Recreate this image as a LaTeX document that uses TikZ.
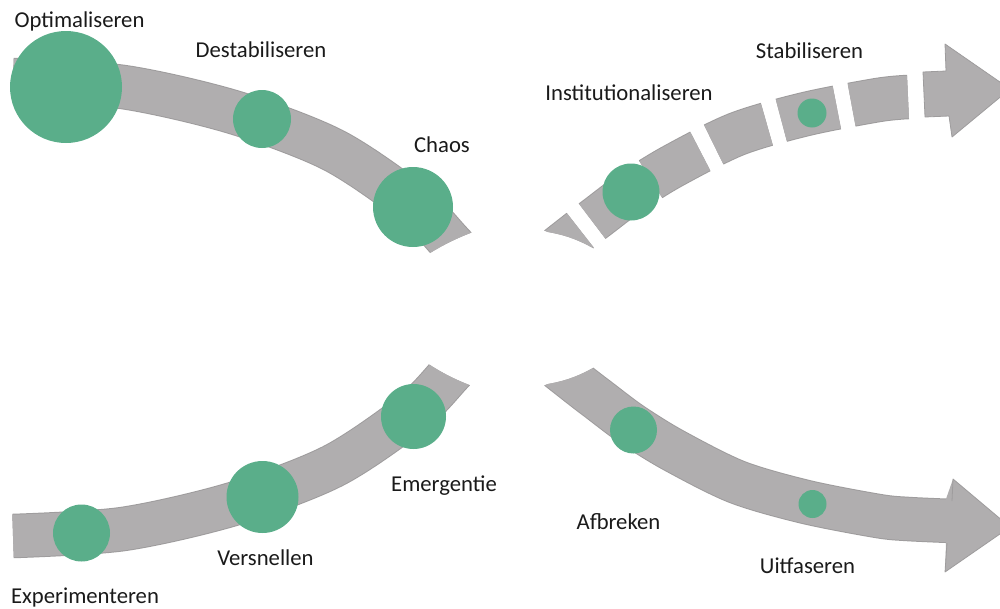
\documentclass[tikz,border=0pt]{standalone}
\usepackage{fontspec}
\setmainfont{Carlito}
\definecolor{bandgray}{RGB}{176,174,175}
\definecolor{bandedge}{RGB}{158,156,157}
\definecolor{dotgreen}{RGB}{90,174,138}
\definecolor{txt}{RGB}{26,26,26}
\begin{document}
\begin{tikzpicture}[x=1pt,y=-1pt,
  bandout/.style={draw=bandedge, line width=44.5pt},
  bandin/.style={draw=bandgray, line width=42.5pt},
  dashes/.style={dash pattern=on 57pt off 15pt},
  head/.style={fill=bandgray, draw=bandedge, line width=0.8pt, line join=round},
  dot/.style={circle, fill=dotgreen, inner sep=0pt},
  lbl/.style={font=\fontsize{22.7}{27}\selectfont, text=txt, inner sep=0pt, anchor=base}]
\useasboundingbox (0,0) rectangle (1000,608);
\clip (0,0) rectangle (1000,608);

% upper left band, ending in a concave cut
\begin{scope}
  \clip (-20,-20) -- (600,-20) -- (559,190) -- (473,232)
        .. controls (457,238) and (443,245) .. (430,253)
        -- (344,295) -- (-20,295) -- cycle;
  \draw[bandout] plot[smooth] coordinates {(13,80) (123,87) (233,112) (333,150) (413,204) (451,243) (472,266)};
  \draw[bandin] plot[smooth] coordinates {(13,80) (123,87) (233,112) (333,150) (413,204) (451,243) (472,266)};
\end{scope}

% lower left band, ending in a concave cut
\begin{scope}
  \clip (-20,317) -- (337,317) -- (427,363)
        .. controls (441,372.5) and (456,380) .. (472,386)
        -- (562,432) -- (600,628) -- (-20,628) -- cycle;
  \draw[bandout] plot[smooth] coordinates {(13,536) (123,529) (233,504) (333,466) (413,412) (451,373) (472,350)};
  \draw[bandin] plot[smooth] coordinates {(13,536) (123,529) (233,504) (333,466) (413,412) (451,373) (472,350)};
\end{scope}

% upper right band: dashed, drawn from the arrow back to the start cut
\begin{scope}
  \clip (488,209) -- (548,232) .. controls (565,235) and (580,240) .. (598,251)
        -- (658,274) -- (1020,274) -- (1020,-20) -- (488,-20) -- cycle;
  \draw[bandout, dashes] plot[smooth] coordinates {(908,97) (878,100) (806,114) (737,134) (673,166) (631,192) (599,216) (582,229) (540,262)};
  \draw[bandin, dashes] plot[smooth] coordinates {(908,97) (878,100) (806,114) (737,134) (673,166) (631,192) (599,216) (582,229) (540,262)};
\end{scope}
\draw[head] (923,72) -- (946,71) -- (945,44) -- (1010,89) -- (952,137) -- (949,116) -- (925,117) -- cycle;

% lower right band: solid, ending in an arrow
\begin{scope}
  \clip (488,407) -- (548,384) .. controls (565,381) and (580,376) .. (598,365)
        -- (658,342) -- (1020,342) -- (1020,636) -- (488,636) -- cycle;
  \draw[bandout] plot[smooth] coordinates {(540,354) (582,387) (599,400) (631,424) (673,450) (737,482) (806,502) (878,516) (908,519) (952,521)};
  \draw[bandin] plot[smooth] coordinates {(540,354) (582,387) (599,400) (631,424) (673,450) (737,482) (806,502) (878,516) (908,519) (952,521)};
\end{scope}
\fill[bandgray] (946,499) -- (953,479) -- (1010,527) -- (945,572) -- (946,543) -- cycle;
\draw[bandedge, line width=0.8pt, line join=round] (952,501) -- (953,479) -- (1010,527) -- (945,572) -- (947,543);

% phase markers
\node[dot, minimum size=112pt] (d-opt) at (66,87) {};
\node[dot, minimum size=58pt]  (d-destab) at (262,119) {};
\node[dot, minimum size=80pt]  (d-chaos) at (413,207) {};
\node[dot, minimum size=57pt]  (d-inst) at (631,192) {};
\node[dot, minimum size=29pt]  (d-stab) at (812,113) {};
\node[dot, minimum size=57pt]  (d-exp) at (81.5,533) {};
\node[dot, minimum size=72pt]  (d-versn) at (262.5,497) {};
\node[dot, minimum size=65pt]  (d-emerg) at (413.5,416.5) {};
\node[dot, minimum size=47pt]  (d-afbr) at (633.5,430) {};
\node[dot, minimum size=28pt]  (d-uitf) at (812.5,504) {};

% phase names
\node[lbl] (t-opt) at (79.5,27) {Optimaliseren};
\node[lbl] (t-destab) at (261,57) {Destabiliseren};
\node[lbl] (t-chaos) at (442,152) {Chaos};
\node[lbl] (t-inst) at (629,100) {Institutionaliseren};
\node[lbl] (t-stab) at (809.5,58) {Stabiliseren};
\node[lbl] (t-exp) at (85,603) {Experimenteren};
\node[lbl] (t-versn) at (265.5,565) {Versnellen};
\node[lbl] (t-emerg) at (444,491) {Emergentie};
\node[lbl] (t-afbr) at (618.5,529) {Afbreken};
\node[lbl] (t-uitf) at (807.5,573) {Uitfaseren};
\end{tikzpicture}
\end{document}
